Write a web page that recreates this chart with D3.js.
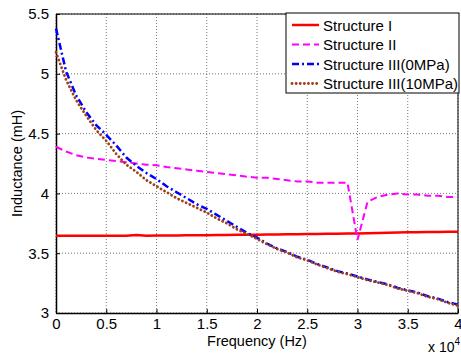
<!DOCTYPE html>
<html>
<head>
<meta charset="utf-8">
<script src="https://cdn.jsdelivr.net/npm/d3@7"></script>
<style>
body { margin: 0; background: #fff; }
text { font-family: Arial, "Liberation Sans", sans-serif; }
</style>
</head>
<body>
<script>
var w = 461;
var h = 355;
var freq = d3.range(0, 41000, 1000);
var structI = [3.645, 3.645, 3.645, 3.645, 3.645, 3.645, 3.645, 3.646, 3.652, 3.646,
   3.648, 3.648, 3.649, 3.650, 3.650, 3.651, 3.652, 3.653, 3.654, 3.654,
   3.655, 3.656, 3.657, 3.658, 3.659, 3.660, 3.661, 3.662, 3.663, 3.664,
   3.665, 3.667, 3.669, 3.671, 3.673, 3.675, 3.676, 3.677, 3.678, 3.679, 3.680];
var structII = [4.39, 4.35, 4.32, 4.30, 4.29, 4.28, 4.27, 4.26, 4.25, 4.24,
   4.235, 4.22, 4.21, 4.20, 4.19, 4.18, 4.17, 4.16, 4.15, 4.14,
   4.13, 4.13, 4.12, 4.11, 4.10, 4.10, 4.09, 4.09, 4.09, 4.09,
   3.61, 3.93, 3.97, 3.99, 4.00, 3.99, 3.99, 3.98, 3.98, 3.97, 3.97];
var structIII0 = [5.38, 5.02, 4.82, 4.68, 4.57, 4.49, 4.40, 4.30, 4.23, 4.17,
   4.12, 4.06, 4.01, 3.96, 3.91, 3.87, 3.82, 3.77, 3.72, 3.67,
   3.63, 3.58, 3.54, 3.51, 3.47, 3.445, 3.41, 3.38, 3.35, 3.33,
   3.305, 3.28, 3.26, 3.24, 3.21, 3.19, 3.17, 3.14, 3.12, 3.09, 3.07];
var structIII10 = [5.18, 4.95, 4.78, 4.65, 4.53, 4.44, 4.33, 4.24, 4.18, 4.11,
   4.06, 4.01, 3.96, 3.92, 3.88, 3.84, 3.79, 3.75, 3.70, 3.66,
   3.62, 3.575, 3.535, 3.505, 3.465, 3.44, 3.405, 3.375, 3.345, 3.325,
   3.30, 3.275, 3.255, 3.235, 3.205, 3.185, 3.165, 3.135, 3.115, 3.085, 3.06];
var xTicks = [0, 5000, 10000, 15000, 20000, 25000, 30000, 35000, 40000];
var xTickLabels = ['0', '0.5', '1', '1.5', '2', '2.5', '3', '3.5', '4'];
var yTicks = [3, 3.5, 4, 4.5, 5, 5.5];
var yTickLabels = ['3', '3.5', '4', '4.5', '5', '5.5'];
var seriesNames = ['Structure I', 'Structure II', 'Structure III(0MPa)', 'Structure III(10MPa)'];

var series = [
   { name: seriesNames[0], values: structI, color: '#ff0000', dash: null, width: 2.5, cap: 'butt' },
   { name: seriesNames[1], values: structII, color: '#ff00ff', dash: '7,4', width: 2, cap: 'butt' },
   { name: seriesNames[2], values: structIII0, color: '#0000ff', dash: '7,3,2,3', width: 2.5, cap: 'butt' },
   { name: seriesNames[3], values: structIII10, color: '#a0401a', dash: '0.1,4', width: 2.8, cap: 'round' }
];

var pLeft = 56, pRight = 458, pTop = 14, pBottom = 313;
var x = d3.scaleLinear().domain([0, 40000]).range([pLeft, pRight]);
var y = d3.scaleLinear().domain([3, 5.5]).range([pBottom, pTop]);

var svg = d3.select('body')
   .append('svg')
   .attr('width', w)
   .attr('height', h);

// grid
svg.append('g')
   .selectAll('line')
   .data(xTicks)
   .enter()
   .append('line')
   .attr('x1', function(d) { return x(d); })
   .attr('x2', function(d) { return x(d); })
   .attr('y1', pTop)
   .attr('y2', pBottom)
   .attr('stroke', '#777')
   .attr('stroke-width', 1)
   .attr('stroke-dasharray', '1,2');
svg.append('g')
   .selectAll('line')
   .data(yTicks)
   .enter()
   .append('line')
   .attr('x1', pLeft)
   .attr('x2', pRight)
   .attr('y1', function(d) { return y(d); })
   .attr('y2', function(d) { return y(d); })
   .attr('stroke', '#777')
   .attr('stroke-width', 1)
   .attr('stroke-dasharray', '1,2');

// axes
var xAxis = d3.axisBottom(x).tickValues(xTicks)
   .tickFormat(function(d, i) { return xTickLabels[i]; })
   .tickSizeInner(-4).tickSizeOuter(0).tickPadding(8);
var yAxis = d3.axisLeft(y).tickValues(yTicks)
   .tickFormat(function(d, i) { return yTickLabels[i]; })
   .tickSizeInner(-4).tickSizeOuter(0).tickPadding(7);
var gx = svg.append('g').attr('transform', 'translate(0,' + pBottom + ')').call(xAxis);
var gy = svg.append('g').attr('transform', 'translate(' + pLeft + ',0)').call(yAxis);
[gx, gy].forEach(function(g) {
   g.selectAll('text').attr('font-size', '15px').attr('fill', '#000')
      .style('font-family', 'Arial, "Liberation Sans", sans-serif');
   g.select('.domain').attr('stroke', '#000').attr('stroke-width', 1.5);
   g.selectAll('.tick line').attr('stroke', '#000');
});
gx.selectAll('text').attr('dy', '0.55em');
// box top/right
svg.append('line').attr('x1', pLeft).attr('x2', pRight).attr('y1', pTop).attr('y2', pTop)
   .attr('stroke', '#000').attr('stroke-width', 1);
svg.append('line').attr('x1', pRight).attr('x2', pRight).attr('y1', pTop).attr('y2', pBottom)
   .attr('stroke', '#000').attr('stroke-width', 1);

// lines
var line = d3.line()
   .x(function(d, i) { return x(freq[i]); })
   .y(function(d) { return y(d); });
svg.append('g')
   .selectAll('path')
   .data(series)
   .enter()
   .append('path')
   .attr('d', function(s) { return line(s.values); })
   .attr('fill', 'none')
   .attr('stroke', function(s) { return s.color; })
   .attr('stroke-width', function(s) { return s.width; })
   .attr('stroke-dasharray', function(s) { return s.dash; })
   .attr('stroke-linecap', function(s) { return s.cap; });

// labels
svg.append('text')
   .text('Frequency (Hz)')
   .attr('x', (pLeft + pRight) / 2)
   .attr('y', 346)
   .attr('text-anchor', 'middle')
   .attr('font-size', '14.5px');
svg.append('text')
   .text('Inductance (mH)')
   .attr('transform', 'translate(22,' + ((pTop + pBottom) / 2) + ') rotate(-90)')
   .attr('text-anchor', 'middle')
   .attr('font-size', '14.5px');
var mult = svg.append('text')
   .attr('x', 428)
   .attr('y', 352)
   .attr('font-size', '14px');
mult.append('tspan').text('x 10');
mult.append('tspan').text('4').attr('dy', -7).attr('font-size', '10px');

// legend
var lg = svg.append('g').attr('transform', 'translate(286,13)');
lg.append('rect')
   .attr('width', 173)
   .attr('height', 80)
   .attr('fill', '#fff')
   .attr('stroke', '#000')
   .attr('stroke-width', 1);
var items = lg.selectAll('g')
   .data(series)
   .enter()
   .append('g')
   .attr('transform', function(d, i) { return 'translate(0,' + (12 + i * 19.5) + ')'; });
items.append('line')
   .attr('x1', 6)
   .attr('x2', 33)
   .attr('stroke', function(s) { return s.color; })
   .attr('stroke-width', function(s) { return s.width; })
   .attr('stroke-dasharray', function(s) { return s.dash; })
   .attr('stroke-linecap', function(s) { return s.cap; });
items.append('text')
   .text(function(s) { return s.name; })
   .attr('x', 37)
   .attr('y', 5.5)
   .attr('font-size', '15px');
</script>
</body>
</html>
